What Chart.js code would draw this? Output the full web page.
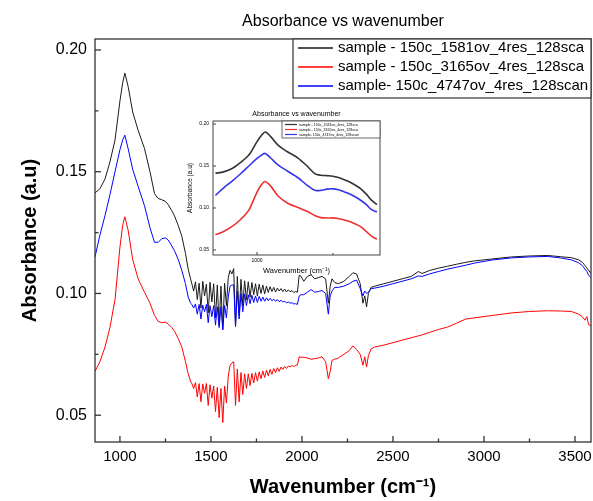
<!DOCTYPE html>
<html>
<head>
<meta charset="utf-8">
<script src="https://cdn.jsdelivr.net/npm/chart.js@4.4.0/dist/chart.umd.min.js"></script>
<style>
  body { margin: 0; background: #fff; }
  #quadro { position: relative; width: 593px; height: 501px; }
  #grafico { position: absolute; left: 0; top: 0; }
  #detalhe { position: absolute; left: 170px; top: 100px; }
</style>
</head>
<body>
<div id="quadro">
  <canvas id="grafico" width="593" height="501"></canvas>
  <canvas id="detalhe" width="222" height="180"></canvas>
</div>
<script>
const numerosOnda = [
  863, 890, 918, 945, 973, 1000, 1015, 1027, 1045, 1070, 1100, 1135, 1165, 1190, 1210, 1230, 1250, 1265, 1285, 1300, 1320, 1340, 1360, 1375, 1388,
  1395, 1405, 1415, 1425, 1435, 1445, 1455, 1465, 1475, 1485, 1495, 1505, 1515, 1525, 1535, 1545, 1555, 1565, 1575, 1585,
  1595, 1605, 1615, 1625, 1635, 1645, 1655, 1665, 1675, 1685, 1695, 1705, 1715, 1725, 1735, 1745, 1755, 1765, 1775, 1785,
  1795, 1805, 1815, 1825, 1835, 1845, 1855, 1865, 1875, 1885, 1895, 1905, 1915, 1925, 1935, 1945, 1955, 1965, 1975, 1985, 1995,
  2010, 2030, 2050, 2070, 2090, 2110, 2130, 2145, 2155, 2165, 2180, 2200, 2230, 2260, 2280, 2300, 2320, 2335, 2345, 2355, 2365, 2380, 2400,
  2450, 2500, 2550, 2600, 2640, 2660, 2700, 2750, 2800, 2850, 2900, 2950, 3050, 3150, 3250, 3350, 3420, 3480, 3520, 3540, 3555, 3565, 3575, 3588
];

const amostra1581 = [
  0.1413, 0.1430, 0.1470, 0.1540, 0.1630, 0.1790, 0.1865, 0.1905, 0.1850, 0.1745, 0.1670, 0.1595, 0.1500, 0.1410, 0.1390, 0.1385, 0.1378, 0.1365, 0.1340, 0.1318, 0.1280, 0.1235, 0.1165, 0.1100, 0.1060,
  0.1040, 0.1010, 0.1048, 0.0975, 0.1042, 0.0940, 0.1050, 0.0990, 0.1038, 0.0920, 0.1046, 0.0965, 0.1040, 0.0900, 0.1035, 0.0870, 0.1030, 0.0855, 0.1042, 0.0950,
  0.1065, 0.1095, 0.1080, 0.1102, 0.0865, 0.1070, 0.0910, 0.1058, 0.0950, 0.1052, 0.0975, 0.1048, 0.0985, 0.1045, 0.0995, 0.1040, 0.0990, 0.1038, 0.1000, 0.1035,
  0.0998, 0.1030, 0.1004, 0.1028, 0.1008, 0.1025, 0.1006, 0.1022, 0.1010, 0.1020, 0.1008, 0.1018, 0.1006, 0.1015, 0.1007, 0.1012, 0.1004, 0.1008, 0.1005, 0.1075, 0.1070,
  0.1050, 0.1070, 0.1077, 0.1060, 0.1065, 0.1070, 0.1060, 0.0960, 0.1030, 0.1060, 0.1045, 0.1040, 0.1050, 0.1070, 0.1085, 0.1080, 0.1040, 0.0960, 0.0990, 0.0945, 0.1000, 0.1025, 0.1030,
  0.1040, 0.1050, 0.1060, 0.1070, 0.1090, 0.1082, 0.1094, 0.1104, 0.1112, 0.1120, 0.1128, 0.1134, 0.1142, 0.1150, 0.1154, 0.1156, 0.1151, 0.1147, 0.1138, 0.1128, 0.1115, 0.1105, 0.1095, 0.1082
];

const amostra3165 = [
  0.0680, 0.0720, 0.0780, 0.0860, 0.0975, 0.1190, 0.1280, 0.1315, 0.1260, 0.1140, 0.1060, 0.1005, 0.0960, 0.0910, 0.0885, 0.0880, 0.0882, 0.0875, 0.0860, 0.0845, 0.0815, 0.0780, 0.0720, 0.0670, 0.0640,
  0.0630, 0.0610, 0.0634, 0.0575, 0.0630, 0.0555, 0.0628, 0.0590, 0.0630, 0.0540, 0.0625, 0.0570, 0.0620, 0.0515, 0.0615, 0.0490, 0.0610, 0.0470, 0.0620, 0.0550,
  0.0660, 0.0705, 0.0715, 0.0720, 0.0540, 0.0690, 0.0555, 0.0675, 0.0585, 0.0670, 0.0610, 0.0670, 0.0622, 0.0672, 0.0632, 0.0675, 0.0640, 0.0678, 0.0650, 0.0682,
  0.0655, 0.0685, 0.0662, 0.0688, 0.0668, 0.0692, 0.0675, 0.0695, 0.0680, 0.0698, 0.0688, 0.0700, 0.0692, 0.0702, 0.0698, 0.0704, 0.0700, 0.0705, 0.0706, 0.0740, 0.0738,
  0.0738, 0.0735, 0.0730, 0.0732, 0.0735, 0.0740, 0.0720, 0.0650, 0.0680, 0.0725, 0.0730, 0.0735, 0.0750, 0.0765, 0.0785, 0.0770, 0.0750, 0.0705, 0.0740, 0.0698, 0.0745, 0.0772, 0.0780,
  0.0788, 0.0798, 0.0808, 0.0818, 0.0826, 0.0830, 0.0840, 0.0852, 0.0862, 0.0878, 0.0895, 0.0900, 0.0910, 0.0920, 0.0926, 0.0929, 0.0928, 0.0926, 0.0915, 0.0905, 0.0890, 0.0905, 0.0872, 0.0868
];

const amostra4747 = [
  0.1150, 0.1240, 0.1320, 0.1405, 0.1500, 0.1590, 0.1630, 0.1650, 0.1595, 0.1510, 0.1440, 0.1360, 0.1270, 0.1210, 0.1210, 0.1225, 0.1228, 0.1220, 0.1195, 0.1175, 0.1140, 0.1095, 0.1040, 0.0985, 0.0960,
  0.0955, 0.0940, 0.0957, 0.0915, 0.0955, 0.0895, 0.0952, 0.0925, 0.0955, 0.0880, 0.0950, 0.0905, 0.0950, 0.0870, 0.0945, 0.0860, 0.0945, 0.0850, 0.0950, 0.0900,
  0.0985, 0.1030, 0.1035, 0.1035, 0.0865, 0.1010, 0.0895, 0.1000, 0.0925, 0.0998, 0.0950, 0.0995, 0.0958, 0.0993, 0.0963, 0.0990, 0.0963, 0.0988, 0.0968, 0.0985,
  0.0968, 0.0982, 0.0970, 0.0980, 0.0970, 0.0977, 0.0968, 0.0975, 0.0966, 0.0972, 0.0965, 0.0968, 0.0962, 0.0965, 0.0960, 0.0962, 0.0957, 0.0958, 0.0955, 0.0990, 0.0995,
  0.0995, 0.1005, 0.1016, 0.1005, 0.1008, 0.1012, 0.1000, 0.0915, 0.0990, 0.1010, 0.1025, 0.1025, 0.1030, 0.1040, 0.1050, 0.1055, 0.1020, 0.0990, 0.1010, 0.1000, 0.1005, 0.1020, 0.1022,
  0.1030, 0.1040, 0.1050, 0.1060, 0.1072, 0.1070, 0.1080, 0.1090, 0.1100, 0.1108, 0.1116, 0.1125, 0.1138, 0.1146, 0.1150, 0.1152, 0.1146, 0.1138, 0.1126, 0.1115, 0.1100, 0.1090, 0.1075, 0.1065
];

const rotulos = [
  'sample - 150c_1581ov_4res_128sca',
  'sample - 150c_3165ov_4res_128sca',
  'sample- 150c_4747ov_4res_128scan'
];

// Marcas dos eixos
const marcasX = [1000, 1250, 1500, 1750, 2000, 2250, 2500, 2750, 3000, 3250, 3500];
const marcasY = [0.05, 0.075, 0.10, 0.125, 0.15, 0.175, 0.20];
const marcasXDetalhe = [1000, 1250];
const marcasYDetalhe = [0.05, 0.10, 0.15, 0.20];

const cores = ['#1a1a1a', '#ff0000', '#0000ff'];
const coresDetalhe = ['#333333', '#ee3030', '#3535ee'];

// Monta os pontos {x, y} de uma serie (limite opcional em x)
function pontos(valores, limite = Infinity) {
  return numerosOnda
    .map((x, i) => ({ x: x, y: valores[i] }))
    .filter(p => p.x <= limite);
}

function ehMaior(v, passo) {
  return Math.abs(v / passo - Math.round(v / passo)) < 1e-6;
}

// Titulo centrado sobre a area do grafico
const tituloCentrado = {
  id: 'tituloCentrado',
  afterDraw(chart, args, o) {
    const { ctx, chartArea: a } = chart;
    ctx.save();
    ctx.font = o.fonte;
    ctx.fillStyle = '#000';
    ctx.textAlign = 'center';
    ctx.textBaseline = 'middle';
    ctx.fillText(o.texto, (a.left + a.right) / 2, o.y);
    ctx.restore();
  }
};

// Moldura e marcas de escala voltadas para dentro
const moldura = {
  id: 'moldura',
  beforeDatasetsDraw(chart, args, o) {
    if (!o.fundo) return;
    const { ctx, chartArea: a } = chart;
    ctx.save();
    ctx.fillStyle = '#fff';
    ctx.fillRect(a.left, a.top, a.right - a.left, a.bottom - a.top);
    ctx.restore();
  },
  afterDraw(chart, args, o) {
    const { ctx, chartArea: a, scales } = chart;
    ctx.save();
    ctx.strokeStyle = o.cor;
    ctx.lineWidth = o.espessura;
    ctx.strokeRect(a.left, a.top, a.right - a.left, a.bottom - a.top);
    scales.x.ticks.forEach(t => {
      const px = scales.x.getPixelForValue(t.value);
      const len = t.label ? o.maior : o.menor;
      ctx.beginPath();
      ctx.moveTo(px, a.bottom);
      ctx.lineTo(px, a.bottom - len);
      ctx.stroke();
    });
    scales.y.ticks.forEach(t => {
      const py = scales.y.getPixelForValue(t.value);
      const len = t.label ? o.maior : o.menor;
      ctx.beginPath();
      ctx.moveTo(a.left, py);
      ctx.lineTo(a.left + len, py);
      ctx.stroke();
    });
    ctx.restore();
  }
};

// Legenda em caixa no canto superior direito
const legendaCaixa = {
  id: 'legendaCaixa',
  afterDraw(chart, args, o) {
    const { ctx, chartArea: a } = chart;
    const ds = chart.data.datasets;
    ctx.save();
    ctx.font = o.fonte;
    const x0 = a.right - o.largura;
    const y0 = a.top;
    ctx.fillStyle = '#fff';
    ctx.fillRect(x0, y0, o.largura, o.altura);
    ctx.strokeStyle = o.corBorda;
    ctx.lineWidth = o.borda;
    ctx.strokeRect(x0, y0, o.largura, o.altura);
    ds.forEach((d, i) => {
      const y = y0 + o.primeira + i * o.passo;
      ctx.strokeStyle = d.borderColor;
      ctx.lineWidth = o.espLinha;
      ctx.beginPath();
      ctx.moveTo(x0 + o.margem, y);
      ctx.lineTo(x0 + o.margem + o.linha, y);
      ctx.stroke();
      ctx.fillStyle = '#000';
      ctx.textBaseline = 'middle';
      ctx.fillText(d.label, x0 + o.margem + o.linha + o.espaco, y);
    });
    ctx.restore();
  }
};

// Sem folga extra nas pontas do eixo x
function ajustaX(altura) {
  return s => {
    s.height = altura;
    s.paddingLeft = 0;
    s.paddingRight = 0;
  };
}

// Grafico principal
new Chart(document.getElementById('grafico'), {
  type: 'line',
  data: {
    datasets: rotulos.map((r, i) => ({
      label: r,
      data: pontos([amostra1581, amostra3165, amostra4747][i]),
      borderColor: cores[i],
      borderWidth: 1,
      pointRadius: 0,
      tension: 0,
      order: [2, 1, 0][i]
    }))
  },
  options: {
    responsive: false,
    animation: false,
    layout: { padding: { top: 39, right: 2 } },
    plugins: {
      legend: { display: false },
      tooltip: { enabled: false },
      tituloCentrado: { texto: 'Absorbance vs wavenumber', fonte: '16px "Liberation Sans", Arial', y: 22 },
      moldura: { cor: '#333', espessura: 1.3, maior: 6, menor: 3.5, fundo: false },
      legendaCaixa: {
        fonte: '15px "Liberation Sans", Arial', largura: 298, altura: 59, primeira: 9, passo: 19,
        margem: 5, linha: 35, espaco: 5, borda: 1.2, corBorda: '#333', espLinha: 1.6
      }
    },
    scales: {
      x: {
        type: 'linear',
        min: 863,
        max: 3588,
        grid: { display: false, drawTicks: false },
        border: { display: false },
        afterBuildTicks: s => { s.ticks = marcasX.map(v => ({ value: v })); },
        ticks: {
          autoSkip: false,
          maxRotation: 0,
          padding: 6,
          color: '#000',
          font: { family: '"Liberation Sans", Arial', size: 15 },
          callback: v => ehMaior(v, 500) ? String(v) : ''
        },
        title: {
          display: true,
          text: 'Wavenumber (cm⁻¹)',
          color: '#000',
          font: { family: '"Liberation Sans", Arial', size: 20, weight: 'bold' },
          padding: { top: 0, bottom: 2 }
        },
        afterFit: ajustaX(59)
      },
      y: {
        min: 0.039,
        max: 0.2045,
        grid: { display: false, drawTicks: false },
        border: { display: false },
        afterBuildTicks: s => { s.ticks = marcasY.map(v => ({ value: v })); },
        ticks: {
          autoSkip: false,
          padding: 8,
          color: '#000',
          font: { family: '"Liberation Sans", Arial', size: 16 },
          callback: v => ehMaior(v, 0.05) ? v.toFixed(2) : ''
        },
        title: {
          display: true,
          text: 'Absorbance (a.u)',
          color: '#000',
          font: { family: '"Liberation Sans", Arial', size: 20, weight: 'bold' },
          padding: { top: 18, bottom: 0 }
        },
        afterFit: s => { s.width = 95; }
      }
    }
  },
  plugins: [tituloCentrado, moldura, legendaCaixa]
});

// Grafico de detalhe (regiao 860-1400 cm-1)
new Chart(document.getElementById('detalhe'), {
  type: 'line',
  data: {
    datasets: rotulos.map((r, i) => ({
      label: r,
      data: pontos([amostra1581, amostra3165, amostra4747][i], 1400),
      borderColor: coresDetalhe[i],
      borderWidth: 1.6,
      pointRadius: 0,
      tension: 0.3
    }))
  },
  options: {
    responsive: false,
    animation: false,
    layout: { padding: { top: 21, right: 12 } },
    plugins: {
      legend: { display: false },
      tooltip: { enabled: false },
      tituloCentrado: { texto: 'Absorbance vs wavenumber', fonte: '7px "Liberation Sans", Arial', y: 14 },
      moldura: { cor: '#444', espessura: 1, maior: 3, menor: 2, fundo: true },
      legendaCaixa: {
        fonte: '3.6px "Liberation Sans", Arial', largura: 98, altura: 17, primeira: 3.5, passo: 5,
        margem: 3, linha: 12, espaco: 2, borda: 0.8, corBorda: '#444', espLinha: 1.2
      }
    },
    scales: {
      x: {
        type: 'linear',
        min: 855,
        max: 1405,
        grid: { display: false, drawTicks: false },
        border: { display: false },
        afterBuildTicks: s => { s.ticks = marcasXDetalhe.map(v => ({ value: v })); },
        ticks: {
          autoSkip: false,
          maxRotation: 0,
          padding: 3,
          color: '#000',
          font: { family: '"Liberation Sans", Arial', size: 5 },
          callback: v => ehMaior(v, 500) ? String(v) : ''
        },
        title: {
          display: true,
          text: 'Wavenumber (cm⁻¹)',
          color: '#000',
          font: { family: '"Liberation Sans", Arial', size: 7.5 },
          padding: { top: 0, bottom: 5 }
        },
        afterFit: ajustaX(25)
      },
      y: {
        min: 0.044,
        max: 0.2036,
        grid: { display: false, drawTicks: false },
        border: { display: false },
        afterBuildTicks: s => { s.ticks = marcasYDetalhe.map(v => ({ value: v })); },
        ticks: {
          autoSkip: false,
          padding: 4,
          color: '#000',
          font: { family: '"Liberation Sans", Arial', size: 5 },
          callback: v => v.toFixed(2)
        },
        title: {
          display: true,
          text: 'Absorbance (a.u)',
          color: '#000',
          font: { family: '"Liberation Sans", Arial', size: 6.5 },
          padding: { top: 16, bottom: 0 }
        },
        afterFit: s => { s.width = 43; }
      }
    }
  },
  plugins: [tituloCentrado, moldura, legendaCaixa]
});
</script>
</body>
</html>
